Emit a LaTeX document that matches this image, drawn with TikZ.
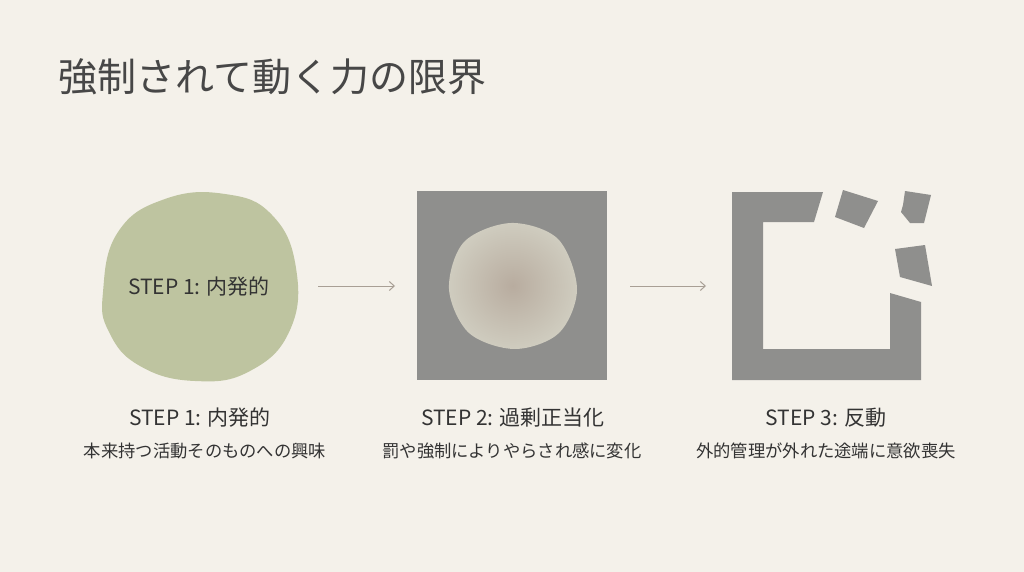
\documentclass[tikz,border=0pt]{standalone}
\usepackage{fontspec}
\setmainfont{Noto Sans CJK JP}
\usetikzlibrary{arrows.meta}
\definecolor{bg}{HTML}{F4F1EA}
\definecolor{ink}{HTML}{333333}
\definecolor{sage}{HTML}{BEC4A0}
\definecolor{slate}{HTML}{8F8F8D}
\definecolor{arr}{HTML}{A89F95}
\definecolor{coreout}{HTML}{CFCCBF}
\definecolor{corein}{HTML}{B8AC9F}
\tikzset{
  flowarrow/.style={draw=arr, line width=1pt, -{Straight Barb[length=5pt,width=9pt]}},
  steptitle/.style={font=\fontsize{21}{25}\selectfont, text=ink, anchor=center},
  stepsub/.style={font=\fontsize{17.3}{20}\selectfont, text=ink, anchor=center},
  piece/.style={fill=slate, draw=none}
}
\begin{document}
\begin{tikzpicture}[x=1pt,y=-1pt]
\useasboundingbox[fill=bg] (0,0) rectangle (1024,572);
% title
\node[anchor=west, text=ink!90, font=\fontsize{39}{44}\selectfont] (title) at (55,77) {強制されて動く力の限界};
% blob 1
\fill[sage] plot[smooth cycle, tension=0.75] coordinates {(103,292) (118,232) (165,199) (225,194) (272,215) (296,268) (290,330) (250,371) (195,381) (140,366) (109,332)};
\node[font=\fontsize{21}{25}\selectfont, text=ink] (b1) at (199,287) {STEP 1: 内発的};
% square 2
\fill[slate] (417,191) rectangle (607,380);
\coordinate (sq2) at (512,286);
\shade[inner color=corein, outer color=coreout] plot[smooth cycle, tension=0.55] coordinates {(577,289) (559,333) (515,349) (469,333) (449,289) (464,242) (511,223) (558,239)};
% broken square 3
\fill[piece] (732,192) -- (823,192) -- (814,222) -- (763,222) -- (763,349) -- (890,349) -- (890,293) -- (921,302) -- (921,380) -- (732,380) -- cycle;
\fill[piece] (835,217) -- (843,190) -- (878,201) -- (864,228) -- cycle;
\fill[piece] (905,191) -- (931,195) -- (924,223) -- (910,223) -- (901,212) -- (903,205) -- cycle;
\fill[piece] (895,249) -- (925,245) -- (932,286) -- (900,277) -- cycle;
\coordinate (sq3) at (826,286);
% arrows
\coordinate (a1s) at (318,286); \coordinate (a1e) at (395,286);
\coordinate (a2s) at (630,286); \coordinate (a2e) at (706,286);
\draw[flowarrow] (a1s) -- (a1e);
\draw[flowarrow] (a2s) -- (a2e);
% labels
\node[steptitle] (t1) at (200,418) {STEP 1: 内発的};
\node[stepsub] (s1) at (205,451) {本来持つ活動そのものへの興味};
\node[steptitle] (t2) at (513,418) {STEP 2: 過剰正当化};
\node[stepsub] (s2) at (512,451) {罰や強制によりやらされ感に変化};
\node[steptitle] (t3) at (826,418) {STEP 3: 反動};
\node[stepsub] (s3) at (826,451) {外的管理が外れた途端に意欲喪失};
\end{tikzpicture}
\end{document}
